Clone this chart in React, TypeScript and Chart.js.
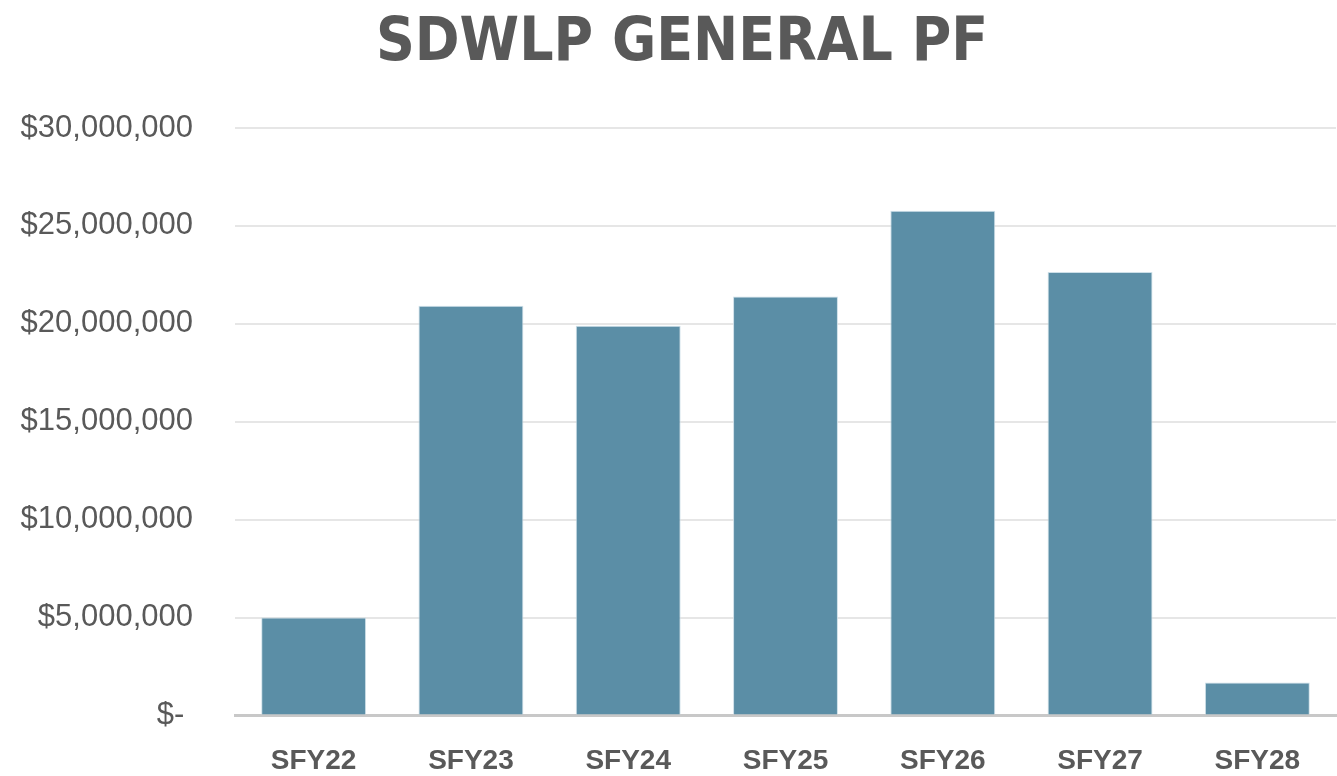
import React, { useEffect, useRef } from "react";
import { Chart, registerables } from "chart.js";

Chart.register(...registerables);

const categories = ["SFY22", "SFY23", "SFY24", "SFY25", "SFY26", "SFY27", "SFY28"];
const values = [5000000, 20920000, 19900000, 21400000, 25770000, 22650000, 1680000];
const yTicks = [0, 5000000, 10000000, 15000000, 20000000, 25000000, 30000000];
const titleText = "SDWLP GENERAL PF";

function fmt(v: number): string {
  if (v === 0) return "$- ";
  return "$" + v.toLocaleString("en-US");
}

const shiftTitle = {
  id: "shiftTitle",
  afterLayout(chart: any) {
    if (chart.titleBlock) chart.titleBlock.left = 28;
  },
};

export default function App() {
  const ref = useRef<HTMLCanvasElement | null>(null);
  useEffect(() => {
    document.body.style.margin = "0";
    const ctx = ref.current!.getContext("2d")!;
    const chart = new Chart(ctx, {
      type: "bar",
      data: {
        labels: categories,
        datasets: [
          {
            data: values,
            backgroundColor: "rgb(91,142,166)",
            borderColor: "rgba(200,220,230,0.9)",
            borderWidth: 1,
            categoryPercentage: 1,
            barPercentage: 0.667,
          },
        ],
      },
      plugins: [shiftTitle],
      options: {
        animation: false,
        responsive: false,
        layout: { padding: { left: 0, right: 1, top: 0, bottom: 0 } },
        plugins: {
          legend: { display: false },
          tooltip: { enabled: false },
          title: {
            display: true,
            text: titleText,
            color: "#595959",
            font: {
              family: "'Liberation Sans Narrow', 'DejaVu Sans Condensed', 'Liberation Sans', sans-serif",
              size: 60,
              weight: "bold",
              lineHeight: 1,
            },
            padding: { top: 14, bottom: 54 },
          },
        },
        scales: {
          x: {
            grid: { display: false, drawTicks: false },
            border: { display: true, color: "#c8c8c8", width: 3 },
            ticks: {
              color: "#595959",
              padding: 29,
              font: { family: "'Liberation Sans', Arial, sans-serif", size: 28, weight: "bold" },
            },
            afterFit: (s: any) => {
              s.height = 60;
            },
          },
          y: {
            min: 0,
            max: 30000000,
            afterBuildTicks: (s: any) => {
              s.ticks = yTicks.map((v) => ({ value: v }));
            },
            grid: { color: "#e6e6e6", lineWidth: 2, drawTicks: false },
            border: { display: false },
            ticks: {
              color: "#595959",
              padding: 42,
              font: { family: "'Liberation Sans', Arial, sans-serif", size: 31 },
              callback: (v: any) => fmt(Number(v)),
            },
            afterFit: (s: any) => {
              s.width = 235;
            },
          },
        },
      },
    });
    return () => chart.destroy();
  }, []);
  return (
    <div style={{ position: "absolute", left: 0, top: 0, width: 1337, height: 776 }}>
      <canvas ref={ref} width={1337} height={776} style={{ width: 1337, height: 776 }} />
    </div>
  );
}
